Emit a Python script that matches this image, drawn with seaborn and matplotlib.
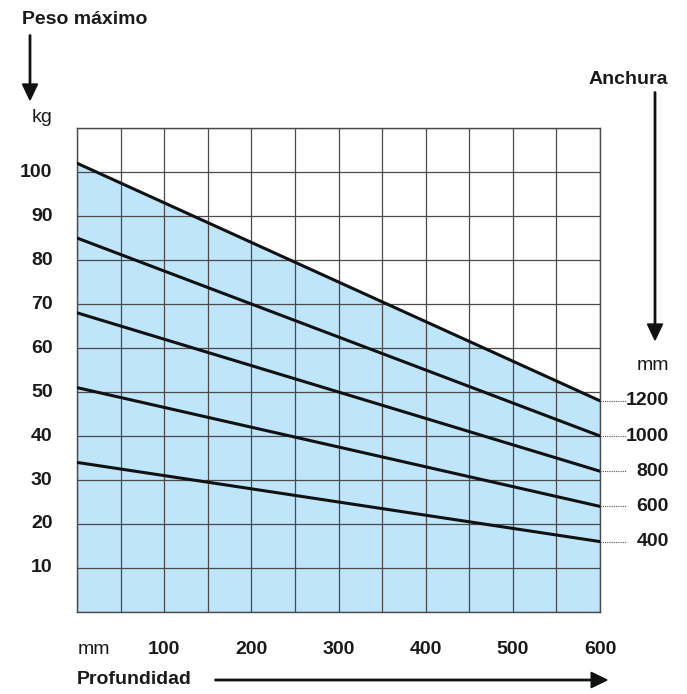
import numpy as np
import pandas as pd
import seaborn as sns
import matplotlib.pyplot as plt
from matplotlib.patches import FancyArrow

# depth (mm) at both ends of each line
profundidad = [0, 600]
anchuras = ["1200", "1000", "800", "600", "400"]
peso_inicio = [102, 85, 68, 51, 34]
peso_final = [48, 40, 32, 24, 16]

x_ticks = [100, 200, 300, 400, 500, 600]
y_ticks = [10, 20, 30, 40, 50, 60, 70, 80, 90, 100]

rows = []
for a, p0, p1 in zip(anchuras, peso_inicio, peso_final):
    rows.append({"profundidad": profundidad[0], "peso": p0, "anchura": a})
    rows.append({"profundidad": profundidad[1], "peso": p1, "anchura": a})
df = pd.DataFrame(rows)

sns.set_style("white")
plt.rcParams["font.family"] = ["Liberation Sans Narrow", "Liberation Sans", "DejaVu Sans"]

fig = plt.figure(figsize=(6.87, 6.94), dpi=100)
ax = fig.add_axes([77 / 687, 1 - 612 / 694, 523 / 687, 484 / 694])

top = df[df["anchura"] == anchuras[0]]
ax.fill_between(top["profundidad"], top["peso"], 0, color="#bfe5fa", zorder=1)

sns.lineplot(data=df, x="profundidad", y="peso", units="anchura", estimator=None,
             color="#111111", linewidth=2.2, ax=ax, zorder=3)

ax.set_xlim(0, 600)
ax.set_ylim(0, 110)
ax.set_xticks(np.arange(0, 601, 50))
ax.set_yticks(np.arange(0, 111, 10))
ax.grid(True, color="#4a4a4a", linewidth=0.9, zorder=2)
ax.set_axisbelow(False)
ax.tick_params(length=0, labelleft=False, labelbottom=False)
for s in ax.spines.values():
    s.set_color("#4a4a4a")
    s.set_linewidth(1.0)
ax.set_xlabel("")
ax.set_ylabel("")

bold = dict(fontsize=14, fontweight="bold", color="#1a1a1a")
plain = dict(fontsize=14, color="#1a1a1a")

for v in y_ticks:
    ax.text(-28, v, str(v), ha="right", va="center", **bold)
ax.text(-28, 110.5, "kg", ha="right", va="bottom", **plain)

for v in x_ticks:
    ax.text(v, -8.5, str(v), ha="center", va="center", **bold)
ax.text(20, -8.5, "mm", ha="center", va="center", **plain)

# right side width labels
for a, p1 in zip(anchuras, peso_final):
    ax.text(679, p1, a, ha="right", va="center", **bold)
    ax.plot([600, 630], [p1, p1], color="#555555", linestyle=(0, (1, 1)),
            linewidth=0.8, clip_on=False)
ax.text(679, 56, "mm", ha="right", va="center", **plain)

# axis titles with arrows
arrow = dict(width=0.002, head_width=0.022, head_length=0.023,
             length_includes_head=True, color="#111111")

fig.text(22 / 687, 1 - 20 / 694, "Peso máximo", ha="left", va="center", **bold)
fig.patches.append(FancyArrow(30 / 687, 1 - 35 / 694, 0, -65 / 694,
                              transform=fig.transFigure, figure=fig, **arrow))

fig.text(628 / 687, 1 - 79 / 694, "Anchura", ha="center", va="center", **bold)
fig.patches.append(FancyArrow(655 / 687, 1 - 92 / 694, 0, -248 / 694,
                              transform=fig.transFigure, figure=fig, **arrow))

fig.text(77 / 687, 1 - 680 / 694, "Profundidad", ha="left", va="center", **bold)
fig.patches.append(FancyArrow(215 / 687, 1 - 680 / 694, 392 / 687, 0,
                              transform=fig.transFigure, figure=fig, **arrow))

fig.savefig("out.png", dpi=100)
